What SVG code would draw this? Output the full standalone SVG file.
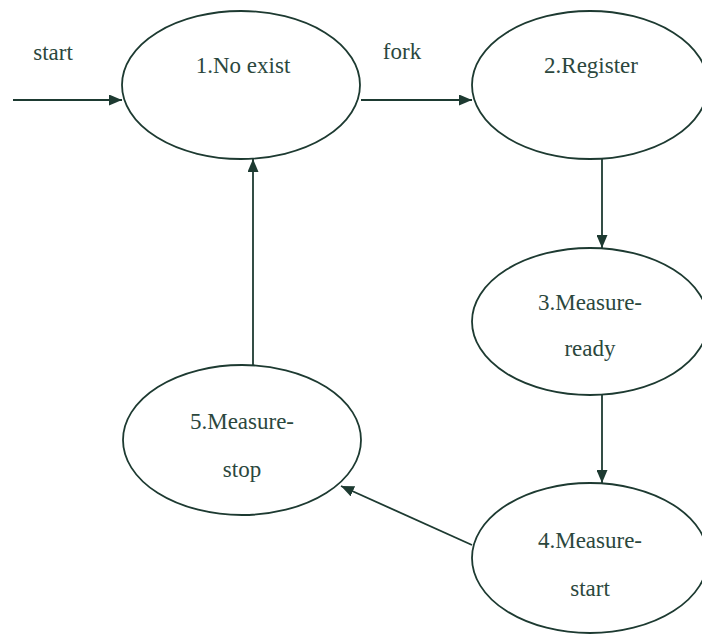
<svg xmlns="http://www.w3.org/2000/svg" width="702" height="635" viewBox="0 0 702 635">
  <style>
    .state { fill: #ffffff; stroke: #1d3a31; stroke-width: 1.8; }
    .label { font-family: 'Liberation Serif', 'Times New Roman', serif; font-size: 23px; fill: #2b473d; text-anchor: middle; }
    .edge { stroke: #1d3a31; stroke-width: 1.8; fill: none; marker-end: url(#arrow); }
  </style>
  <defs>
    <marker id="arrow" viewBox="0 0 13 11" refX="13" refY="5.5" markerWidth="13" markerHeight="11" markerUnits="userSpaceOnUse" orient="auto">
      <path d="M0,0 L13,5.5 L0,11 Z" fill="#1d3a31"/>
    </marker>
  </defs>
  <rect width="702" height="635" fill="#ffffff"/>

  <g id="connectors">
    <line class="edge" x1="13" y1="100" x2="122" y2="100"/>
    <line class="edge" x1="361" y1="100" x2="472" y2="100"/>
    <line class="edge" x1="602" y1="159" x2="602" y2="248"/>
    <line class="edge" x1="602" y1="395" x2="602" y2="483"/>
    <line class="edge" x1="472" y1="545" x2="341" y2="486"/>
    <line class="edge" x1="253" y1="365" x2="253" y2="159"/>
    <text class="label" x="53" y="60">start</text>
    <text class="label" x="402" y="59">fork</text>
  </g>

  <g id="state1">
    <ellipse class="state" cx="241" cy="85" rx="119" ry="74"/>
    <text class="label" x="243" y="73">1.No exist</text>
  </g>

  <g id="state2">
    <ellipse class="state" cx="590" cy="85" rx="118" ry="74"/>
    <text class="label" x="591" y="73">2.Register</text>
  </g>

  <g id="state3">
    <ellipse class="state" cx="590" cy="321.5" rx="118" ry="73.5"/>
    <text class="label" x="590" y="310">3.Measure-</text>
    <text class="label" x="590" y="356">ready</text>
  </g>

  <g id="state4">
    <ellipse class="state" cx="590" cy="558" rx="118" ry="75"/>
    <text class="label" x="590" y="548">4.Measure-</text>
    <text class="label" x="590" y="596">start</text>
  </g>

  <g id="state5">
    <ellipse class="state" cx="242" cy="440" rx="119" ry="75"/>
    <text class="label" x="242" y="429">5.Measure-</text>
    <text class="label" x="242" y="477">stop</text>
  </g>
</svg>
